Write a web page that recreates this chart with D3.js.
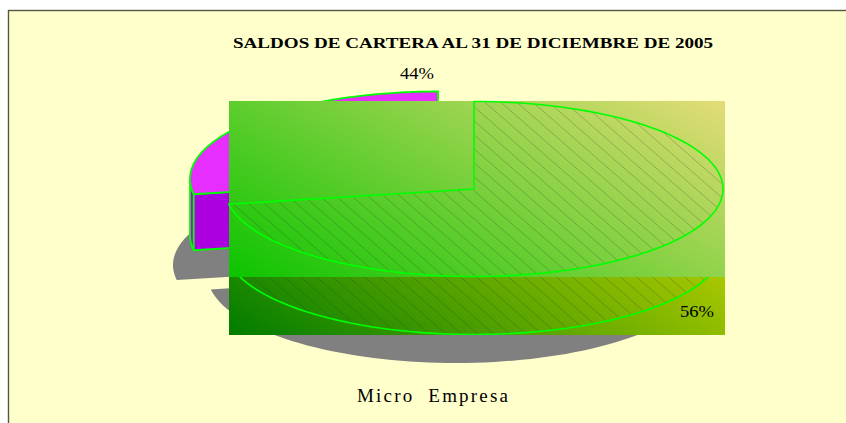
<!DOCTYPE html>
<html><head><meta charset="utf-8">
<script src="https://cdn.jsdelivr.net/npm/d3@7"></script>
<style>html,body{margin:0;padding:0;background:#fff;overflow:hidden}svg{display:block}text{font-family:"Liberation Serif",serif;fill:#000}</style>
</head><body><svg id="c" width="846" height="423"></svg>
<script>
const chartTitle = "SALDOS DE CARTERA AL 31 DE DICIEMBRE DE 2005";
const categoryLabel = "Micro  Empresa";
const sliceNames = ["Otros", "Micro Empresa"];
const sliceValues = [56, 44];
const sliceLabels = ["56%", "44%"];

const svg = d3.select("#c");
const W = 846, H = 423;
const TAU = Math.PI * 2;
const defs = svg.append("defs");

const arcs = d3.pie().sort(null).value(d => d)(sliceValues);
// Foreshortening of the tilted 3D pie: drawn angle for a true angle
const warp = d3.scaleLinear().domain([0, arcs[0].endAngle, TAU]).range([0, 260 * Math.PI / 180, TAU]);
const green = arcs[0], magenta = arcs[1];
const a0 = warp(green.startAngle), a1 = warp(green.endAngle), a2 = warp(magenta.endAngle);

const line = d3.line();
const pt = (c, a) => [c.x + c.rx * Math.sin(a), c.y - c.ry * Math.cos(a)];
const rim = (c, from, to) => d3.range(0, 121).map(i => pt(c, from + (to - from) * i / 120));

const topG = {x: 474, y: 189, rx: 249, ry: 87.5};
const lowG = {x: 474, y: 247, rx: 249, ry: 87.5};
const topM = {x: 438, y: 179, rx: 248, ry: 87.5};
const lowM = {x: 438, y: 235, rx: 248, ry: 87.5};
const shaG = {x: 456, y: 274, rx: 249, ry: 89};
const shaM = {x: 421, y: 265, rx: 248, ry: 87};

function grad(id, x1, y1, x2, y2, c1, c2) {
  const g = defs.append("linearGradient").attr("id", id).attr("gradientUnits", "userSpaceOnUse")
    .attr("x1", x1).attr("y1", y1).attr("x2", x2).attr("y2", y2);
  g.append("stop").attr("offset", 0).attr("stop-color", c1);
  g.append("stop").attr("offset", 1).attr("stop-color", c2);
}
const bx = {l: 229, r: 725, t: 101, m: 277, b: 335};
grad("gU", bx.l, bx.m, bx.l + 201, bx.m - 347, "#0cc400", "#e4dc78");
grad("gL", bx.l, bx.b, bx.l + 178, bx.b - 269, "#007c00", "#a8c800");

const hatch = defs.append("pattern").attr("id", "hatch").attr("patternUnits", "userSpaceOnUse")
  .attr("width", 16).attr("height", 14);
hatch.append("path").attr("d", "M0,0L16,14").attr("stroke", "#1a3a1a").attr("stroke-opacity", 0.38).attr("stroke-width", 0.7);
const fine = defs.append("pattern").attr("id", "fine").attr("patternUnits", "userSpaceOnUse")
  .attr("width", 3).attr("height", 3);
fine.append("rect").attr("width", 3).attr("height", 3).attr("fill", "#b000e4");
fine.append("path").attr("d", "M0,3L3,0").attr("stroke", "#a000d0").attr("stroke-width", 0.6);

defs.append("clipPath").attr("id", "below").append("rect")
  .attr("x", bx.l).attr("y", bx.m).attr("width", bx.r - bx.l).attr("height", bx.b - bx.m);

// panel
svg.append("rect").attr("x", 8.5).attr("y", 10.5).attr("width", W).attr("height", H)
  .attr("fill", "#ffffcc").attr("stroke", "#555544").attr("stroke-width", 1.4);

// shadows
const slicePoly = (c, from, to) => line([[c.x, c.y], ...rim(c, from, to)]) + "Z";
svg.append("path").attr("d", slicePoly(shaM, a1, a2)).attr("fill", "#808080");
svg.append("path").attr("d", slicePoly(shaG, a0, a1)).attr("fill", "#808080");

// magenta slice (walls, then top)
const edgeColor = "#00ff00";
const leftA = 270 * Math.PI / 180;
svg.append("path").attr("d", line([...rim(topM, a1, leftA), ...rim(lowM, leftA, a1)]) + "Z")
  .attr("fill", "#b800f0").attr("stroke", edgeColor).attr("stroke-width", 1.8);
svg.append("path").attr("d", line([[topM.x, topM.y], pt(topM, a1), pt(lowM, a1), [lowM.x, lowM.y]]) + "Z")
  .attr("fill", "url(#fine)").attr("stroke", edgeColor).attr("stroke-width", 1.8);
svg.append("path").attr("d", slicePoly(topM, a1, a2)).attr("fill", "#e62eff")
  .attr("stroke", edgeColor).attr("stroke-width", 1.8);

// green slice painted with its gradient boxes
svg.append("rect").attr("x", bx.l).attr("y", bx.t).attr("width", bx.r - bx.l).attr("height", bx.m - bx.t).attr("fill", "url(#gU)");
svg.append("rect").attr("x", bx.l).attr("y", bx.m).attr("width", bx.r - bx.l).attr("height", bx.b - bx.m).attr("fill", "url(#gL)");
svg.append("path").attr("d", slicePoly(topG, a0, a1)).attr("fill", "url(#hatch)");
svg.append("path").attr("clip-path", "url(#below)").attr("d", line(rim(lowG, 0, TAU)) + "Z").attr("fill", "url(#hatch)");
svg.append("path").attr("clip-path", "url(#below)").attr("d", line(rim(lowG, 0, TAU)))
  .attr("fill", "none").attr("stroke", edgeColor).attr("stroke-width", 1.6);
svg.append("path").attr("d", slicePoly(topG, a0, a1)).attr("fill", "none")
  .attr("stroke", edgeColor).attr("stroke-width", 1.6);

// text
svg.append("text").attr("x", 233).attr("y", 47.5)
  .attr("font-size", 15).attr("font-weight", "bold").attr("textLength", 480).attr("lengthAdjust", "spacingAndGlyphs").text(chartTitle);
svg.append("text").attr("x", 400).attr("y", 79).attr("font-size", 17).attr("textLength", 34).attr("lengthAdjust", "spacingAndGlyphs").text(sliceLabels[1]);
svg.append("text").attr("x", 680).attr("y", 316.5).attr("font-size", 17).attr("textLength", 34).attr("lengthAdjust", "spacingAndGlyphs").text(sliceLabels[0]);
svg.append("text").attr("x", 357).attr("y", 401.5).attr("font-size", 19)
  .attr("textLength", 151).attr("lengthAdjust", "spacing").style("white-space", "pre").text(categoryLabel);
</script></body></html>
